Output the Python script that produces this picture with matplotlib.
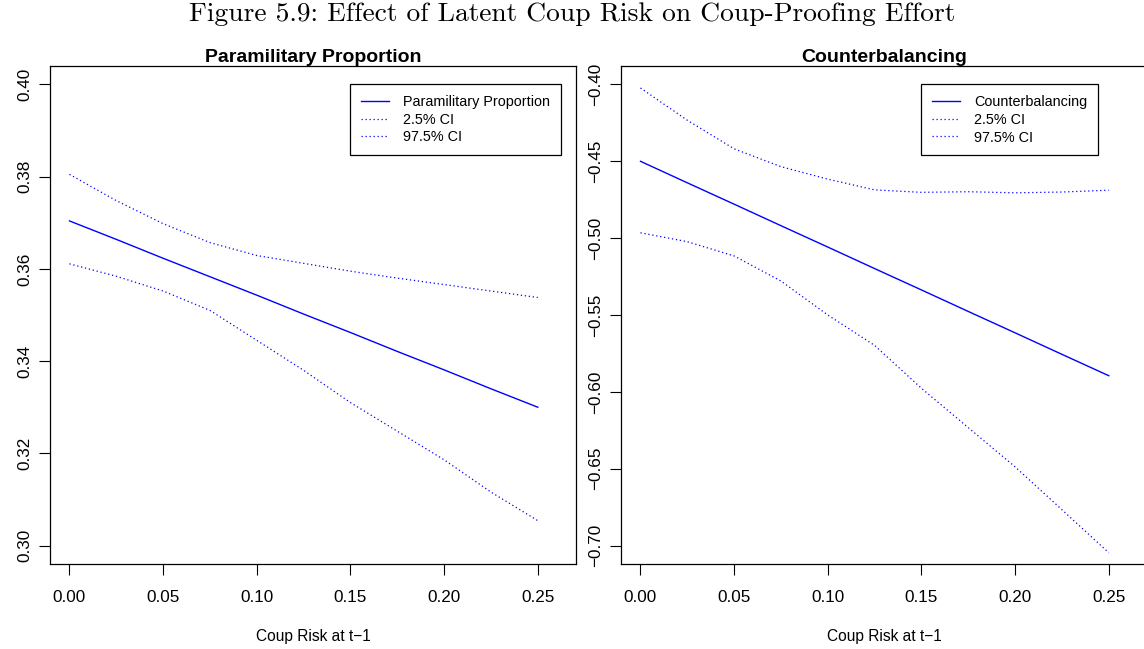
import numpy as np
import matplotlib
matplotlib.use("Agg")
import matplotlib.pyplot as plt

# coup risk grid shared by both panels
risk = [0.0, 0.025, 0.05, 0.075, 0.10, 0.125, 0.15, 0.175, 0.20, 0.225, 0.25]

# Paramilitary proportion
para_fit = [0.3704, 0.3664, 0.3623, 0.3583, 0.3543, 0.3502, 0.3462, 0.3421, 0.3381, 0.3340, 0.3300]
para_lo = [0.3611, 0.3584, 0.3552, 0.3510, 0.3445, 0.3380, 0.3310, 0.3248, 0.3186, 0.3116, 0.3054]
para_hi = [0.3805, 0.3748, 0.3698, 0.3657, 0.3629, 0.3612, 0.3595, 0.3580, 0.3566, 0.3552, 0.3538]

# Counterbalancing
cb_fit = [-0.4500, -0.4640, -0.4779, -0.4919, -0.5058, -0.5198, -0.5337, -0.5477, -0.5616, -0.5756, -0.5895]
cb_lo = [-0.4965, -0.5023, -0.5116, -0.5279, -0.5500, -0.5698, -0.5977, -0.6233, -0.6488, -0.6767, -0.7047]
cb_hi = [-0.4023, -0.4233, -0.4419, -0.4535, -0.4616, -0.4686, -0.4702, -0.4698, -0.4705, -0.4700, -0.4688]

xticks = [0.0, 0.05, 0.10, 0.15, 0.20, 0.25]
para_yticks = [0.30, 0.32, 0.34, 0.36, 0.38, 0.40]
cb_yticks = [-0.70, -0.65, -0.60, -0.55, -0.50, -0.45, -0.40]

plt.rcParams['font.family'] = ['Liberation Sans', 'DejaVu Sans']

W, H = 1144, 649
fig = plt.figure(figsize=(W / 100, H / 100), dpi=100)


def r_range(lo, hi):
    # R style 4% padding
    d = (hi - lo) * 0.04
    return lo - d, hi + d


def panel(left_px, title, fit, lo, hi, yticks, ylim, label):
    ax = fig.add_axes([left_px / W, 1 - 564 / H, 526 / W, 498 / H])
    ax.plot(risk, fit, color='#0000ff', lw=1.0, label=label)
    ax.plot(risk, lo, color='#0000ff', lw=0.9, ls=(0, (1, 2.2)), label='2.5% CI')
    ax.plot(risk, hi, color='#0000ff', lw=0.9, ls=(0, (1, 2.2)), label='97.5% CI')
    ax.set_xlim(*r_range(0, 0.26))
    ax.set_ylim(*r_range(*ylim))
    ax.set_xticks(xticks)
    ax.set_xticklabels([f'{v:.2f}' for v in xticks])
    ax.set_yticks(yticks)
    ax.set_yticklabels([f'{v:.2f}'.replace('-', '\u2212') for v in yticks])
    for lab in ax.get_yticklabels():
        lab.set_rotation(90)
        lab.set_va('center')
    ax.tick_params(direction='out', length=8, width=0.8, labelsize=12.3)
    ax.tick_params(axis='x', pad=11)
    ax.tick_params(axis='y', pad=5)
    for s in ax.spines.values():
        s.set_linewidth(0.9)
    ax.set_title(title, fontsize=14, fontweight='bold', pad=0)
    ax.set_xlabel('Coup Risk at t\u22121', fontsize=11.2, labelpad=17)
    leg = ax.legend(loc='upper left', bbox_to_anchor=(0.15, ylim[1]),
                    bbox_transform=ax.transData, fontsize=10.4, fancybox=False,
                    framealpha=1, edgecolor='black', borderpad=0.75,
                    handlelength=1.9, handletextpad=1.0, labelspacing=0.25,
                    borderaxespad=0)
    leg.get_frame().set_linewidth(0.9)
    return ax


panel(50, 'Paramilitary Proportion', para_fit, para_lo, para_hi,
      para_yticks, (0.30, 0.40), 'Paramilitary Proportion')
panel(621, 'Counterbalancing', cb_fit, cb_lo, cb_hi,
      cb_yticks, (-0.70, -0.40), 'Counterbalancing')

fig.text(0.5, 1 - 14 / H, 'Figure 5.9: Effect of Latent Coup Risk on Coup-Proofing Effort',
         family='cmr10', fontsize=19.8, ha='center', va='center')

fig.savefig('out.png', dpi=100)
